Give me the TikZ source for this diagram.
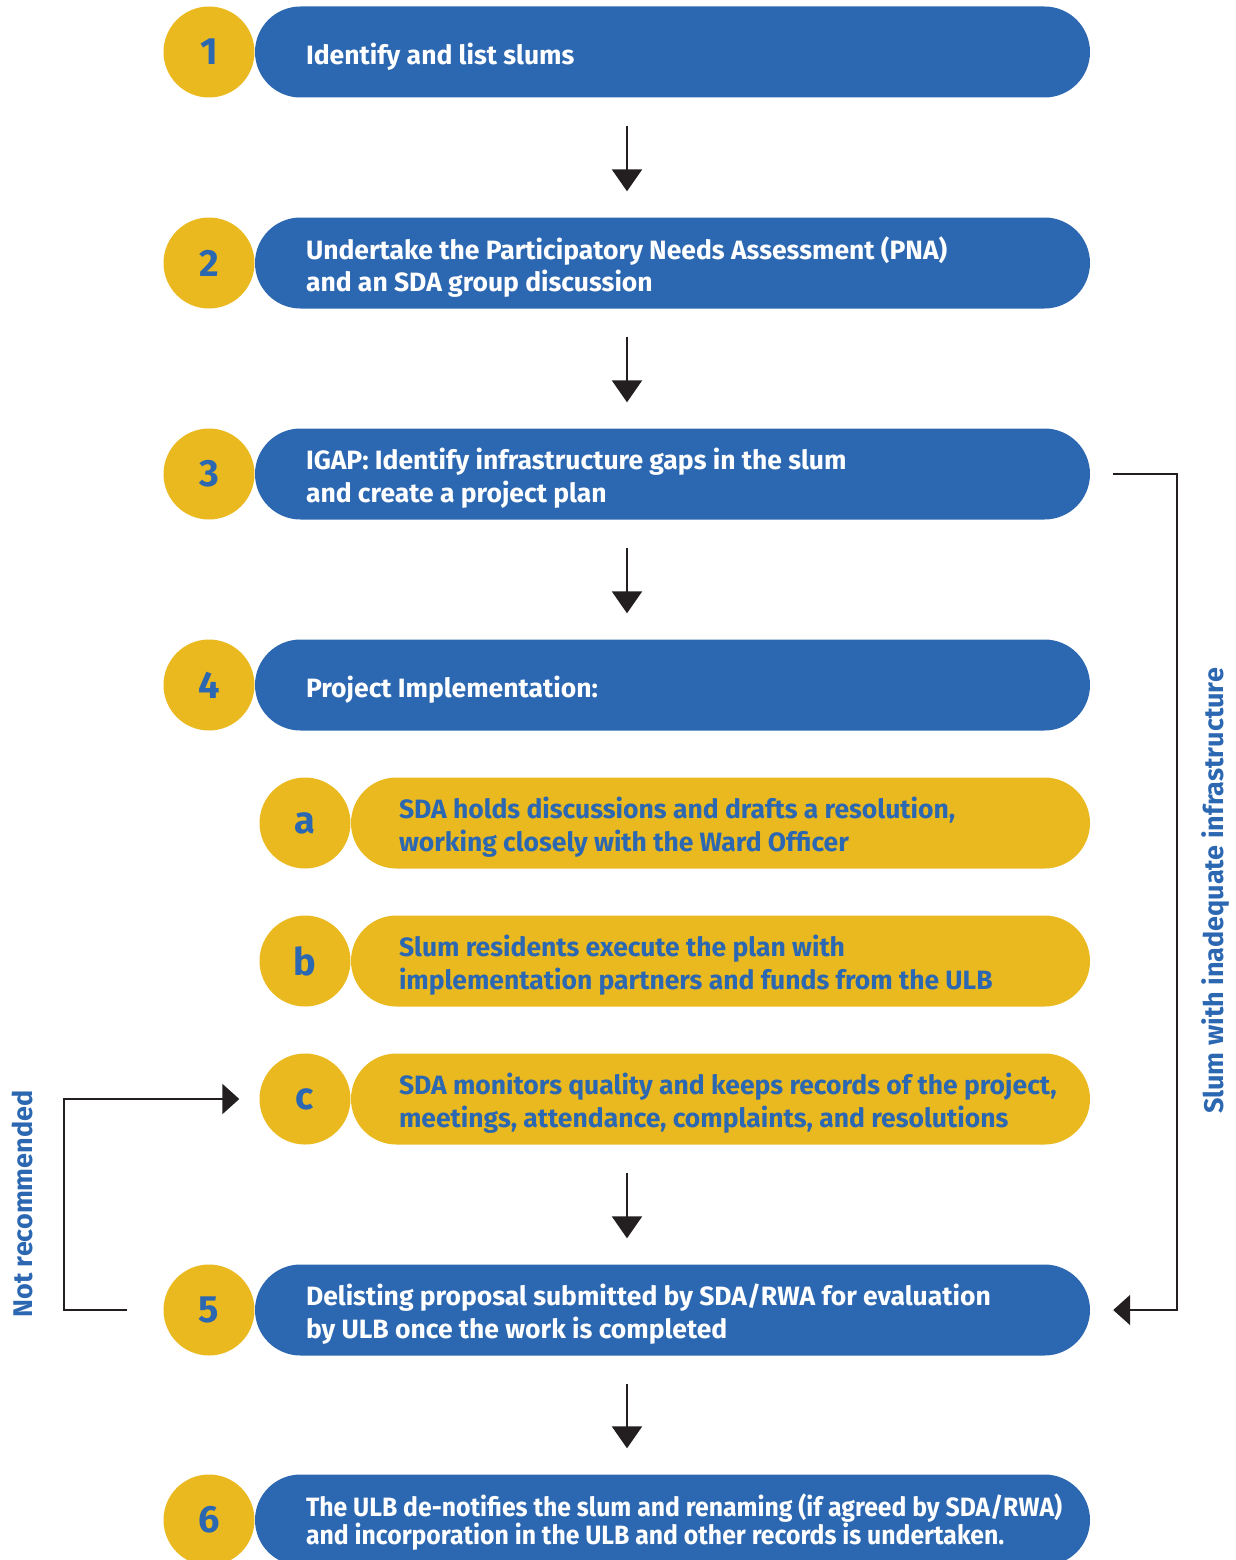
\documentclass[tikz,border=0pt]{standalone}
\usepackage{fontspec}
\setmainfont{Fira Sans}
\newfontfamily\tightfont{Fira Sans}[FakeStretch=0.935]
\usetikzlibrary{arrows.meta}
\definecolor{stepblue}{HTML}{2C67B1}
\definecolor{stepyellow}{HTML}{EAB920}
\definecolor{arrowdark}{HTML}{231F20}
\tikzset{
  numdisc/.style={circle, fill=stepyellow, minimum size=91pt, inner sep=0pt,
    text=stepblue, font=\bfseries\fontsize{38}{40}\selectfont},
  bluepill/.style={rectangle, rounded corners=45.5pt, fill=stepblue,
    minimum width=835pt, minimum height=91pt, inner sep=0pt},
  yellowpill/.style={rectangle, rounded corners=45.5pt, fill=stepyellow,
    minimum width=739pt, minimum height=91pt, inner sep=0pt},
  pilltext/.style={anchor=west, inner sep=0pt, align=left,
    font=\bfseries\fontsize{26.5}{32.5}\selectfont},
  flowarrow/.style={draw=arrowdark, line width=2.4pt,
    -{Triangle[width=30pt,length=22pt]}, shorten <=28pt, shorten >=26pt},
  sidearrow/.style={draw=arrowdark, line width=2.4pt,
    -{Triangle[width=30pt,length=17pt]}},
  sidelabel/.style={rotate=90, text=stepblue,
    font=\bfseries\fontsize{27}{30}\selectfont}
}
\begin{document}
\begin{tikzpicture}[x=1pt, y=-1pt]
  \clip (0,0) rectangle (1236,1560);
  % main steps
  \node[numdisc] (n1) at (209,52) {1};
  \node[bluepill] (p1) at (672.5,52) {};
  \node[pilltext, text=white] (t1) at ([xshift=51pt, yshift=-5pt]p1.west) {Identify and list slums};
  \node[numdisc] (n2) at (209,263) {2};
  \node[bluepill] (p2) at (672.5,263) {};
  \node[pilltext, text=white] (t2) at ([xshift=51pt, yshift=-4pt]p2.west) {Undertake the Participatory Needs Assessment (PNA)\\and an SDA group discussion};
  \node[numdisc] (n3) at (209,474) {3};
  \node[bluepill] (p3) at (672.5,474) {};
  \node[pilltext, text=white] (t3) at ([xshift=51pt, yshift=-4pt]p3.west) {IGAP: Identify infrastructure gaps in the slum\\and create a project plan};
  \node[numdisc] (n4) at (209,685) {4};
  \node[bluepill] (p4) at (672.5,685) {};
  \node[pilltext, text=white] (t4) at ([xshift=51pt, yshift=-5pt]p4.west) {Project Implementation:};
  % sub-steps of 4
  \node[numdisc] (na) at (305,823) {a};
  \node[yellowpill] (pa) at (720.5,823) {};
  \node[pilltext, text=stepblue] (ta) at ([xshift=48pt, yshift=-4pt]pa.west) {SDA holds discussions and drafts a resolution,\\working closely with the Ward Officer};
  \node[numdisc] (nb) at (305,961) {b};
  \node[yellowpill] (pb) at (720.5,961) {};
  \node[pilltext, text=stepblue] (tb) at ([xshift=48pt, yshift=-4pt]pb.west) {Slum residents execute the plan with\\implementation partners and funds from the ULB};
  \node[numdisc] (nc) at (305,1099) {c};
  \node[yellowpill] (pc) at (720.5,1099) {};
  \node[pilltext, text=stepblue] (tc) at ([xshift=48pt, yshift=-4pt]pc.west) {SDA monitors quality and keeps records of the project,\\meetings, attendance, complaints, and resolutions};
  \node[numdisc] (n5) at (209,1310) {5};
  \node[bluepill] (p5) at (672.5,1310) {};
  \node[pilltext, text=white] (t5) at ([xshift=51pt, yshift=-4pt]p5.west) {Delisting proposal submitted by SDA/RWA for evaluation\\by ULB once the work is completed};
  \node[numdisc] (n6) at (209,1520) {6};
  \node[bluepill] (p6) at (672.5,1520) {};
  \node[pilltext, text=white, font=\tightfont\bfseries\fontsize{26.5}{28}\selectfont] (t6) at ([xshift=51pt, yshift=-2pt]p6.west)
    {The ULB de-notifies the slum and renaming (if agreed by SDA/RWA)\\and incorporation in the ULB and other records is undertaken.};
  % down arrows
  \coordinate (axis) at (627,0);
  \draw[flowarrow] (p1.south -| axis) -- (p2.north -| axis);
  \draw[flowarrow] (p2.south -| axis) -- (p3.north -| axis);
  \draw[flowarrow] (p3.south -| axis) -- (p4.north -| axis);
  \draw[flowarrow] (pc.south -| axis) -- (p5.north -| axis);
  \draw[flowarrow] (p5.south -| axis) -- (p6.north -| axis);
  % side loops
  \coordinate (rx) at (1177,0);
  \coordinate (lx) at (64,0);
  \draw[sidearrow] ([xshift=23pt]p3.east) -- (p3.east -| rx) |- ([xshift=23pt]p5.east);
  \draw[sidearrow] ([xshift=-36pt]n5.west) -- (n5.west -| lx) |- ([xshift=-20pt]nc.west);
  \node[sidelabel] (lblright) at (1216,891) {Slum with inadequate infrastructure};
  \node[sidelabel] (lblleft) at (22,1204) {Not recommended};
\end{tikzpicture}
\end{document}
